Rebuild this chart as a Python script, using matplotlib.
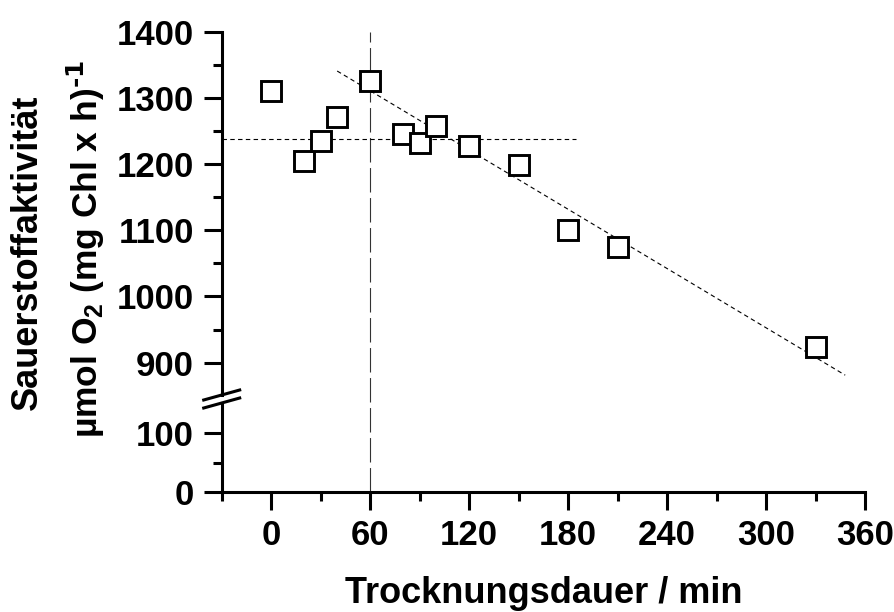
import matplotlib
matplotlib.use("Agg")
import matplotlib.pyplot as plt
from matplotlib.lines import Line2D
from matplotlib.ticker import MultipleLocator, FixedLocator

plt.rcParams['font.family'] = ['Liberation Sans', 'DejaVu Sans']
plt.rcParams['font.weight'] = 'bold'
plt.rcParams['mathtext.default'] = 'regular'

# data
time_min = [0, 20, 30, 40, 60, 80, 90, 100, 120, 150, 180, 210, 330]
activity = [1311, 1205, 1235, 1271, 1326, 1245, 1232, 1258, 1228, 1199, 1101, 1075, 923]

mean_x = [-30, 185]
mean_y = [1238, 1238]
trend_x = [40, 348]
trend_y = [1341, 881]
marker_time = 60

x_ticks = [0, 60, 120, 180, 240, 300, 360]
upper_ticks = [900, 1000, 1100, 1200, 1300, 1400]
lower_ticks = [0, 100]

W, H = 894, 612
fig = plt.figure(figsize=(W / 100, H / 100), dpi=100)


def box(l, t, r, b):
    return [l / W, 1 - b / H, (r - l) / W, (b - t) / H]


ax_top = fig.add_axes(box(221.7, 32, 865, 395))
ax_bot = fig.add_axes(box(221.7, 403, 865, 491.7))

for ax in (ax_top, ax_bot):
    ax.set_xlim(-30, 360)
    ax.spines['top'].set_visible(False)
    ax.spines['right'].set_visible(False)
    ax.spines['left'].set_linewidth(2.2)
    ax.spines['bottom'].set_linewidth(2.2)
    ax.tick_params(which='major', direction='out', length=13, width=2.2,
                   labelsize=25, pad=7)
    ax.tick_params(which='minor', direction='out', length=6.5, width=2.2)
    ax.patch.set_visible(False)

# upper panel
ax_top.set_ylim(851, 1400)
ax_top.yaxis.set_major_locator(FixedLocator(upper_ticks))
ax_top.yaxis.set_minor_locator(MultipleLocator(50))
ax_top.spines['bottom'].set_visible(False)
ax_top.tick_params(axis='x', which='both', bottom=False, labelbottom=False)

# lower panel
ax_bot.set_ylim(0, 152)
ax_bot.yaxis.set_major_locator(FixedLocator(lower_ticks))
ax_bot.yaxis.set_minor_locator(FixedLocator([50]))
ax_bot.xaxis.set_major_locator(FixedLocator(x_ticks))
ax_bot.xaxis.set_minor_locator(MultipleLocator(30))
ax_bot.set_xticklabels([str(v) for v in x_ticks])
ax_bot.set_xlabel("Trocknungsdauer / min", fontsize=26, fontweight='bold', labelpad=17)

# points and lines
ax_top.plot(time_min, activity, linestyle='none', marker='s', markersize=14.5,
            markerfacecolor='white', markeredgecolor='black', markeredgewidth=2.1,
            zorder=3, clip_on=False)
ax_top.plot(mean_x, mean_y, color='black', lw=0.8, dashes=(4, 3), zorder=2)
ax_top.plot(trend_x, trend_y, color='black', lw=0.8, dashes=(4, 3), zorder=2,
            clip_on=False)

# vertical dashed line through both panels
top_pos = ax_top.get_position()
bot_pos = ax_bot.get_position()
ymin = (bot_pos.y0 - top_pos.y0) / top_pos.height
ax_top.axvline(marker_time, ymin=ymin, ymax=1, color='#333333', lw=0.8,
               dashes=(22, 5), clip_on=False, zorder=1)

# axis break marks
sx = top_pos.x0 * W
for yc in (H - top_pos.y0 * H, H - bot_pos.y1 * H):
    fig.add_artist(Line2D([(sx - 18) / W, (sx + 18) / W],
                          [1 - (yc + 5) / H, 1 - (yc - 5) / H],
                          color='black', lw=2.2, transform=fig.transFigure))

# y label, two lines
fig.text(27.5 / W, 1 - 252 / H, "Sauerstoffaktivität", rotation=90,
         ha='center', va='center', fontsize=26, fontweight='bold')
fig.text(86 / W, 1 - 249 / H, r"µmol O$_2$ (mg Chl x h)$^{\text{-1}}$", rotation=90,
         ha='center', va='center', fontsize=25.5, fontweight='bold')

fig.savefig("out.png", dpi=100)
